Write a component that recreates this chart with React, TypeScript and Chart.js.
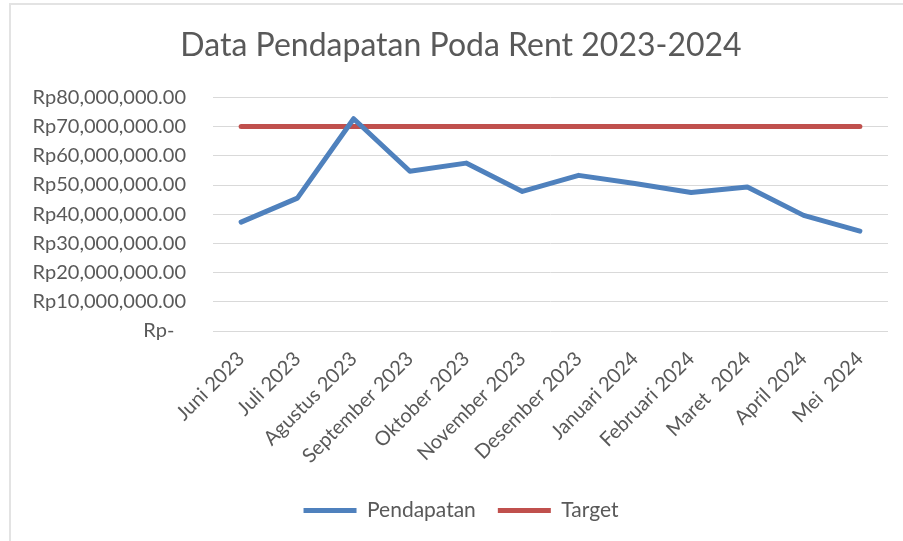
import React, { useEffect, useRef } from "react";
import { Chart, registerables } from "chart.js";

Chart.register(...registerables);

const categories = [
  "Juni 2023",
  "Juli 2023",
  "Agustus 2023",
  "September 2023",
  "Oktober 2023",
  "November 2023",
  "Desember 2023",
  "Januari 2024",
  "Februari 2024",
  "Maret  2024",
  "April 2024",
  "Mei  2024",
];

const pendapatan = [
  37300000, 45500000, 72700000, 54700000, 57500000, 47800000, 53300000,
  50500000, 47400000, 49300000, 39600000, 34200000,
];

const target = [
  70000000, 70000000, 70000000, 70000000, 70000000, 70000000, 70000000,
  70000000, 70000000, 70000000, 70000000, 70000000,
];

const yTickLabels = [
  "Rp-",
  "Rp10,000,000.00",
  "Rp20,000,000.00",
  "Rp30,000,000.00",
  "Rp40,000,000.00",
  "Rp50,000,000.00",
  "Rp60,000,000.00",
  "Rp70,000,000.00",
  "Rp80,000,000.00",
];

const TITLE = "Data Pendapatan Poda Rent 2023-2024";
const FONT = "Lato, 'Open Sans', sans-serif";
const TEXT = "#595959";

export default function App() {
  const ref = useRef<HTMLCanvasElement | null>(null);

  useEffect(() => {
    if (!ref.current) return;
    const chart = new Chart(ref.current, {
      type: "line",
      data: {
        labels: categories,
        datasets: [
          {
            label: "Pendapatan",
            data: pendapatan,
            borderColor: "#4f81bd",
            backgroundColor: "#4f81bd",
            borderWidth: 5,
            pointRadius: 0,
            tension: 0,
            borderCapStyle: "round",
            borderJoinStyle: "round",
          },
          {
            label: "Target",
            data: target,
            borderColor: "#c0504d",
            backgroundColor: "#c0504d",
            borderWidth: 5,
            pointRadius: 0,
            tension: 0,
            borderCapStyle: "round",
            borderJoinStyle: "round",
          },
        ],
      },
      options: {
        responsive: false,
        animation: false,
        layout: { padding: { left: 34, right: 15, top: 0, bottom: 10 } },
        plugins: {
          tooltip: { enabled: false },
          title: {
            display: true,
            text: TITLE,
            color: TEXT,
            font: { family: FONT, size: 32, weight: "normal" },
            padding: { top: 26, bottom: 33 },
          },
          legend: {
            position: "bottom",
            labels: {
              color: TEXT,
              font: { family: FONT, size: 21 },
              usePointStyle: true,
              pointStyle: "line",
              pointStyleWidth: 53,
              boxHeight: 21,
              padding: 22,
            },
          },
        },
        scales: {
          x: {
            offset: true,
            grid: { display: false },
            border: { display: false },
            ticks: {
              color: TEXT,
              font: { family: FONT, size: 20 },
              maxRotation: 45,
              minRotation: 45,
              autoSkip: false,
              padding: 8,
            },
            afterFit: (scale: any) => {
              scale.height = 147;
            },
          },
          y: {
            min: 0,
            max: 80000000,
            grid: { color: "#d9d9d9", lineWidth: 1, drawTicks: false },
            border: { display: false },
            ticks: {
              stepSize: 10000000,
              color: TEXT,
              font: { family: FONT, size: 20 },
              padding: 27,
              callback: (_v: any, i: number) =>
                i === 0 ? yTickLabels[i] + "\u2007" : yTickLabels[i],
            },
            afterFit: (scale: any) => {
              scale.width = 179;
            },
          },
        },
      },
    });
    return () => chart.destroy();
  }, []);

  return (
    <div
      style={{
        position: "fixed",
        left: 0,
        top: 0,
        width: 903,
        height: 541,
        overflow: "hidden",
        background: "#fff",
      }}
    >
      <div
        style={{
          position: "absolute",
          left: 9,
          top: 3,
          width: 1200,
          height: 1200,
          border: "2px solid #e3e3e3",
        }}
      />
      <canvas
        ref={ref}
        width={903}
        height={541}
        style={{ position: "absolute", left: 0, top: 0 }}
      />
    </div>
  );
}
